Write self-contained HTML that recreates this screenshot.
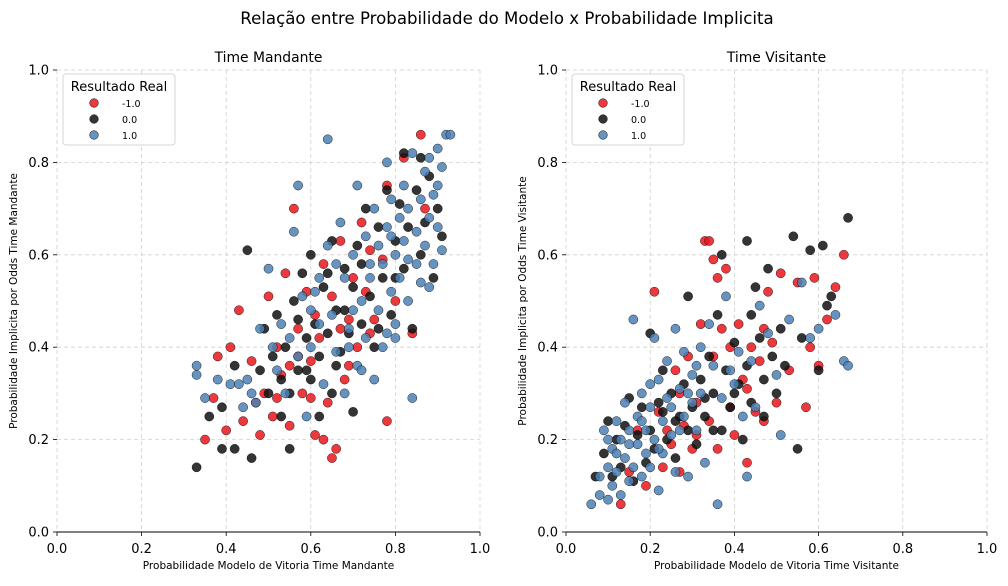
<!DOCTYPE html>
<html><head><meta charset="utf-8"><style>
body{margin:0;background:#fff;font-family:"Liberation Sans","DejaVu Sans",sans-serif}
svg text{font-family:"DejaVu Sans","Liberation Sans",sans-serif}
</style></head><body>
<svg id="chart" width="1008" height="581" viewBox="0 0 1008 581">
<text x="507" y="24" text-anchor="middle" font-size="16.6" fill="#000">Relação entre Probabilidade do Modelo x Probabilidade Implicita</text>
</svg>
<script>
const ticks=[0,0.2,0.4,0.6,0.8,1.0];
const tickLabels=["0.0","0.2","0.4","0.6","0.8","1.0"];
const categories=["-1.0","0.0","1.0"];
const homeRed=[[0.35,0.20],[0.37,0.29],[0.38,0.38],[0.40,0.22],[0.41,0.40],[0.43,0.48],[0.44,0.24],[0.46,0.37],[0.48,0.21],[0.49,0.30],[0.50,0.51],[0.51,0.25],[0.52,0.40],[0.53,0.34],[0.54,0.56],[0.55,0.23],[0.56,0.70],[0.57,0.44],[0.58,0.30],[0.59,0.52],[0.60,0.37],[0.61,0.21],[0.62,0.42],[0.63,0.20],[0.64,0.28],[0.65,0.16],[0.65,0.51],[0.66,0.18],[0.67,0.63],[0.68,0.33],[0.69,0.46],[0.70,0.55],[0.71,0.40],[0.72,0.67],[0.73,0.52],[0.74,0.61],[0.75,0.46],[0.77,0.59],[0.78,0.24],[0.78,0.75],[0.80,0.50],[0.82,0.81],[0.84,0.43],[0.86,0.86],[0.87,0.70],[0.57,0.38],[0.61,0.47],[0.69,0.36],[0.74,0.43],[0.63,0.58],[0.52,0.29],[0.47,0.28],[0.67,0.44],[0.55,0.36],[0.60,0.29]];
const homeBlack=[[0.33,0.14],[0.36,0.25],[0.39,0.27],[0.39,0.18],[0.42,0.36],[0.42,0.18],[0.45,0.61],[0.46,0.16],[0.48,0.35],[0.49,0.44],[0.50,0.30],[0.51,0.38],[0.52,0.47],[0.53,0.25],[0.54,0.40],[0.55,0.18],[0.55,0.30],[0.56,0.50],[0.57,0.35],[0.58,0.56],[0.59,0.42],[0.60,0.33],[0.60,0.60],[0.61,0.45],[0.62,0.25],[0.62,0.38],[0.63,0.53],[0.64,0.43],[0.65,0.30],[0.65,0.63],[0.66,0.48],[0.67,0.39],[0.68,0.57],[0.69,0.43],[0.70,0.26],[0.70,0.53],[0.71,0.62],[0.72,0.45],[0.73,0.70],[0.74,0.51],[0.75,0.40],[0.76,0.66],[0.77,0.55],[0.78,0.74],[0.79,0.47],[0.80,0.63],[0.81,0.71],[0.82,0.82],[0.82,0.57],[0.83,0.66],[0.84,0.44],[0.85,0.74],[0.86,0.60],[0.87,0.67],[0.88,0.77],[0.89,0.55],[0.90,0.70],[0.91,0.64],[0.59,0.35],[0.66,0.36],[0.72,0.58],[0.76,0.44],[0.53,0.33],[0.57,0.46],[0.64,0.56],[0.68,0.48],[0.80,0.55],[0.86,0.81]];
const homeBlue=[[0.33,0.36],[0.33,0.34],[0.35,0.29],[0.38,0.33],[0.41,0.32],[0.43,0.32],[0.45,0.33],[0.47,0.28],[0.48,0.44],[0.50,0.57],[0.52,0.35],[0.54,0.30],[0.55,0.42],[0.56,0.65],[0.57,0.75],[0.58,0.51],[0.59,0.25],[0.60,0.40],[0.61,0.52],[0.62,0.45],[0.63,0.32],[0.64,0.85],[0.64,0.62],[0.65,0.47],[0.66,0.39],[0.67,0.67],[0.68,0.55],[0.68,0.30],[0.69,0.44],[0.70,0.60],[0.71,0.75],[0.71,0.36],[0.72,0.50],[0.73,0.42],[0.73,0.64],[0.74,0.55],[0.75,0.33],[0.75,0.70],[0.76,0.48],[0.76,0.62],[0.77,0.58],[0.77,0.40],[0.78,0.80],[0.78,0.66],[0.79,0.52],[0.79,0.72],[0.80,0.60],[0.80,0.45],[0.81,0.68],[0.81,0.55],[0.82,0.75],[0.82,0.63],[0.83,0.50],[0.83,0.70],[0.84,0.82],[0.84,0.29],[0.85,0.65],[0.85,0.58],[0.86,0.72],[0.86,0.54],[0.87,0.78],[0.87,0.62],[0.88,0.68],[0.88,0.81],[0.89,0.73],[0.89,0.58],[0.90,0.83],[0.90,0.66],[0.91,0.79],[0.91,0.61],[0.92,0.86],[0.93,0.86],[0.90,0.75],[0.88,0.53],[0.74,0.58],[0.70,0.48],[0.66,0.58],[0.62,0.55],[0.60,0.48],[0.57,0.38],[0.53,0.45],[0.51,0.40],[0.46,0.30],[0.44,0.27],[0.78,0.43],[0.80,0.42],[0.72,0.35],[0.69,0.40],[0.83,0.59],[0.79,0.64]];
const awayRed=[[0.13,0.06],[0.15,0.13],[0.17,0.22],[0.19,0.10],[0.21,0.52],[0.22,0.26],[0.23,0.14],[0.25,0.19],[0.26,0.35],[0.27,0.13],[0.28,0.23],[0.29,0.38],[0.30,0.18],[0.31,0.28],[0.32,0.45],[0.33,0.63],[0.34,0.63],[0.34,0.24],[0.35,0.59],[0.35,0.38],[0.36,0.55],[0.36,0.18],[0.37,0.44],[0.38,0.57],[0.39,0.27],[0.40,0.21],[0.41,0.45],[0.42,0.33],[0.43,0.15],[0.44,0.40],[0.45,0.26],[0.46,0.37],[0.47,0.24],[0.48,0.52],[0.49,0.41],[0.50,0.28],[0.51,0.56],[0.53,0.35],[0.55,0.54],[0.57,0.27],[0.58,0.40],[0.59,0.55],[0.60,0.36],[0.62,0.46],[0.64,0.53],[0.66,0.60],[0.31,0.21],[0.27,0.30],[0.24,0.22],[0.39,0.40],[0.43,0.31],[0.47,0.44]];
const awayBlack=[[0.07,0.12],[0.09,0.17],[0.10,0.24],[0.11,0.12],[0.12,0.20],[0.13,0.14],[0.14,0.23],[0.15,0.29],[0.16,0.11],[0.17,0.21],[0.18,0.27],[0.19,0.15],[0.20,0.43],[0.20,0.22],[0.21,0.18],[0.22,0.28],[0.23,0.35],[0.24,0.20],[0.25,0.30],[0.26,0.16],[0.27,0.25],[0.28,0.32],[0.29,0.51],[0.29,0.22],[0.30,0.27],[0.31,0.19],[0.32,0.33],[0.33,0.25],[0.34,0.38],[0.35,0.30],[0.36,0.47],[0.37,0.22],[0.37,0.60],[0.38,0.35],[0.39,0.27],[0.40,0.41],[0.41,0.32],[0.42,0.20],[0.43,0.63],[0.43,0.36],[0.44,0.28],[0.45,0.53],[0.46,0.42],[0.47,0.33],[0.48,0.57],[0.49,0.38],[0.50,0.30],[0.51,0.44],[0.52,0.36],[0.54,0.64],[0.55,0.18],[0.56,0.42],[0.58,0.61],[0.60,0.35],[0.61,0.62],[0.62,0.49],[0.63,0.51],[0.67,0.68],[0.33,0.29],[0.26,0.24],[0.23,0.26],[0.40,0.30],[0.35,0.22],[0.44,0.47],[0.47,0.25]];
const awayBlue=[[0.06,0.06],[0.08,0.12],[0.08,0.08],[0.09,0.22],[0.10,0.14],[0.10,0.07],[0.11,0.18],[0.11,0.10],[0.12,0.24],[0.12,0.13],[0.13,0.20],[0.13,0.08],[0.14,0.16],[0.14,0.28],[0.15,0.11],[0.15,0.22],[0.16,0.46],[0.16,0.14],[0.17,0.19],[0.17,0.25],[0.18,0.12],[0.18,0.30],[0.19,0.17],[0.19,0.22],[0.20,0.27],[0.20,0.14],[0.21,0.42],[0.21,0.20],[0.22,0.09],[0.22,0.33],[0.23,0.24],[0.23,0.17],[0.24,0.37],[0.24,0.29],[0.25,0.21],[0.26,0.44],[0.26,0.13],[0.27,0.31],[0.28,0.25],[0.28,0.39],[0.29,0.12],[0.30,0.34],[0.30,0.28],[0.31,0.22],[0.32,0.40],[0.32,0.30],[0.33,0.15],[0.34,0.45],[0.35,0.36],[0.36,0.06],[0.37,0.29],[0.38,0.51],[0.40,0.32],[0.41,0.39],[0.42,0.25],[0.43,0.12],[0.44,0.37],[0.45,0.27],[0.46,0.49],[0.48,0.43],[0.50,0.34],[0.51,0.21],[0.53,0.46],[0.56,0.54],[0.58,0.42],[0.60,0.44],[0.64,0.47],[0.66,0.37],[0.67,0.36],[0.15,0.19],[0.18,0.24],[0.22,0.18],[0.25,0.27],[0.27,0.22],[0.12,0.17],[0.10,0.20],[0.20,0.32],[0.29,0.30],[0.31,0.36],[0.39,0.35]];

const NS="http://www.w3.org/2000/svg";
const svg=document.getElementById('chart');
const colors=["#e8161b","#111111","#4b80b4"];
function mk(tag,attrs,parent){const e=document.createElementNS(NS,tag);for(const k in attrs)e.setAttribute(k,attrs[k]);(parent||svg).appendChild(e);return e;}

function panel(cfg){
  const g=mk('g',{});
  
  
  const sx=v=>cfg.x0+v*(cfg.x1-cfg.x0);
  const sy=v=>532-v*462;
  ticks.forEach((t,i)=>{
    const gl=mk('line',{x1:sx(t),x2:sx(t),y1:70,y2:532,stroke:'#d0d0d0','stroke-dasharray':'4,3','stroke-width':0.8},g);
    
    
    const hl=mk('line',{x1:cfg.x0,x2:cfg.x1,y1:sy(t),y2:sy(t),stroke:'#d0d0d0','stroke-dasharray':'4,3','stroke-width':0.8},g);
    
    
    mk('line',{x1:sx(t),x2:sx(t),y1:532,y2:536,stroke:'#000','stroke-width':0.8},g);
    mk('line',{x1:cfg.x0-4,x2:cfg.x0,y1:sy(t),y2:sy(t),stroke:'#000','stroke-width':0.8},g);
    const xl=mk('text',{x:sx(t),y:553,'text-anchor':'middle','font-size':13},g);xl.textContent=tickLabels[i];
    
    
    const yl=mk('text',{x:cfg.x0-8,y:sy(t)+4.5,'text-anchor':'end','font-size':13},g);yl.textContent=tickLabels[i];
    
    
  });
  const ax=mk('line',{x1:cfg.x0,x2:cfg.x1,y1:532,y2:532,stroke:'#000','stroke-width':1},g);
  
  
  cfg.series.forEach((s,si)=>{
    s.forEach(p=>{
      const c=mk('circle',{cx:sx(p[0]),cy:sy(p[1]),r:4.6,fill:colors[si],'fill-opacity':0.85,stroke:'#000','stroke-width':0.5,'stroke-opacity':0.8},g);
      
      
    });
  });
  const t=mk('text',{x:(cfg.x0+cfg.x1)/2,y:62,'text-anchor':'middle','font-size':13.9},g);t.textContent=cfg.title;
  
  
  const xt=mk('text',{x:(cfg.x0+cfg.x1)/2,y:569,'text-anchor':'middle','font-size':10.5},g);xt.textContent=cfg.xlabel;
  
  
  const yt=mk('text',{x:0,y:0,'text-anchor':'middle','font-size':10.5,transform:`translate(${cfg.x0-40},301) rotate(-90)`},g);yt.textContent=cfg.ylabel;
  
  
  const lg=mk('g',{},g);
  
  
  mk('rect',{x:cfg.x0+6,y:74,width:112,height:71,rx:3,fill:'#fff','fill-opacity':0.85,stroke:'#d6d6d6'},lg);
  const lt=mk('text',{x:cfg.x0+62,y:91,'text-anchor':'middle','font-size':13},lg);lt.textContent='Resultado Real';
  
  
  categories.forEach((c,i)=>{
    const e=mk('g',{},lg);
    
    
    mk('circle',{cx:cfg.x0+37,cy:103+i*16,r:4.3,fill:colors[i],'fill-opacity':0.85,stroke:'#000','stroke-width':0.5},e);
    const tx=mk('text',{x:cfg.x0+65,y:107+i*16,'font-size':9.5},e);tx.textContent=c;
  });
}
panel({name:'home-panel',x0:57,x1:480,title:'Time Mandante',xlabel:'Probabilidade Modelo de Vitoria Time Mandante',ylabel:'Probabilidade Implicita por Odds Time Mandante',series:[homeRed,homeBlack,homeBlue]});
panel({name:'away-panel',x0:566,x1:987,title:'Time Visitante',xlabel:'Probabilidade Modelo de Vitoria Time Visitante',ylabel:'Probabilidade Implicita por Odds Time Visitante',series:[awayRed,awayBlack,awayBlue]});
</script>
</body></html>
